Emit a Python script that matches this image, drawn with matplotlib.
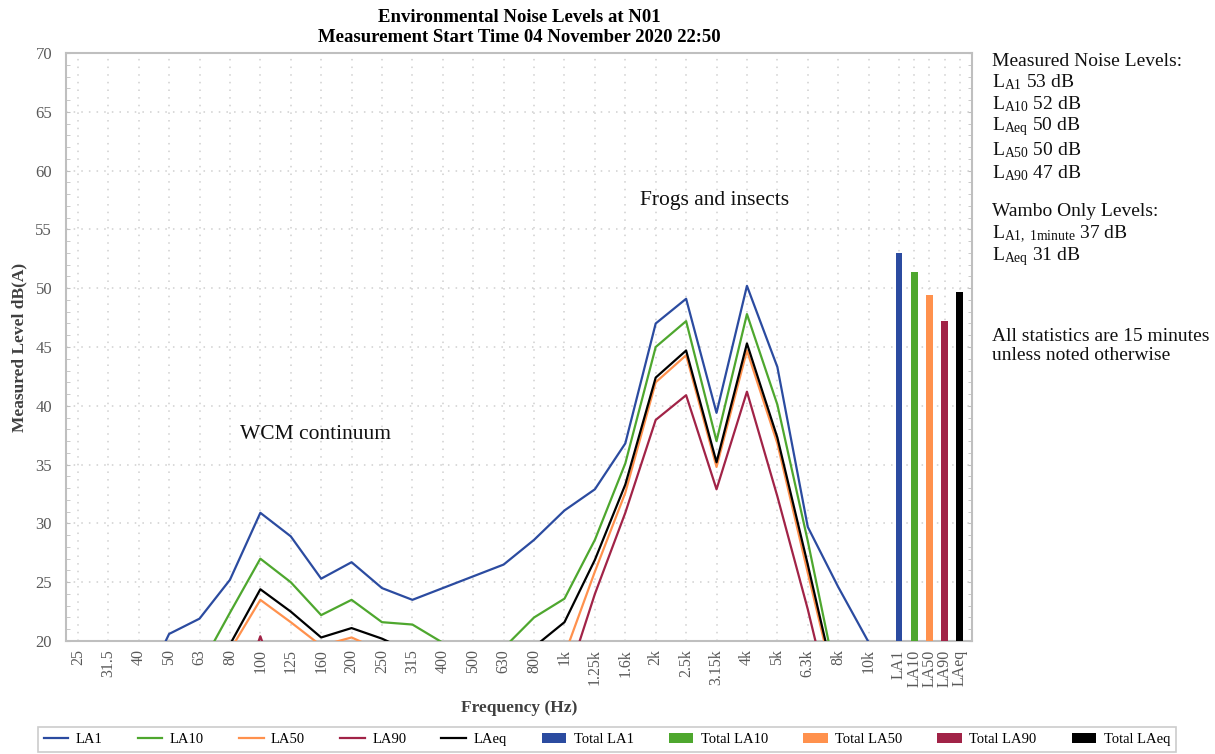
import numpy as np
import matplotlib
matplotlib.use('Agg')
import matplotlib.pyplot as plt
from matplotlib.ticker import MultipleLocator
from matplotlib.patches import Patch
from matplotlib.lines import Line2D

# ---------------- data ----------------
freq_labels = ['25', '31.5', '40', '50', '63', '80', '100', '125', '160', '200', '250',
               '315', '400', '500', '630', '800', '1k', '1.25k', '1.6k', '2k', '2.5k',
               '3.15k', '4k', '5k', '6.3k', '8k', '10k']
la1 = [13.0, 14.0, 15.2, 20.6, 21.9, 25.2, 30.9, 28.9, 25.3, 26.7, 24.5, 23.5, 24.5, 25.5,
       26.5, 28.6, 31.1, 32.9, 36.8, 47.0, 49.1, 39.4, 50.2, 43.3, 29.7, 24.6, 19.9]
la10 = [10.0, 11.0, 13.0, 15.0, 17.7, 22.4, 27.0, 25.0, 22.2, 23.5, 21.6, 21.4, 19.85, 18.0,
        19.4, 22.0, 23.6, 28.6, 35.1, 45.0, 47.2, 37.0, 47.8, 40.1, 28.5, 16.0, 12.0]
la50 = [9.0, 10.0, 12.0, 14.0, 16.0, 19.2, 23.5, 21.6, 19.6, 20.3, 19.15, 18.0, 17.0, 16.0,
        15.0, 15.5, 18.8, 25.9, 32.6, 42.0, 44.3, 34.8, 44.7, 36.8, 25.8, 15.0, 12.0]
la90 = [8.0, 9.0, 10.0, 11.0, 12.0, 13.0, 20.4, 13.0, 12.0, 12.0, 11.0, 11.0, 10.0, 10.0,
        10.0, 11.0, 16.0, 24.0, 30.9, 38.8, 40.9, 32.9, 41.2, 32.3, 22.7, 12.0, 10.0]
laeq = [10.0, 11.0, 13.0, 15.0, 17.0, 19.7, 24.4, 22.5, 20.3, 21.1, 20.2, 19.0, 18.0, 17.0,
        17.5, 19.5, 21.6, 26.9, 33.3, 42.4, 44.7, 35.2, 45.3, 37.3, 26.5, 15.3, 12.0]
total_labels = ['LA1', 'LA10', 'LA50', 'LA90', 'LAeq']
total_values = [53.0, 51.4, 49.4, 47.2, 49.7]

series_names = ['LA1', 'LA10', 'LA50', 'LA90', 'LAeq']
series_colors = ['#2B4BA0', '#4EA72E', '#FF914D', '#A12347', '#000000']

title_lines = ['Environmental Noise Levels at N01',
               'Measurement Start Time 04 November 2020 22:50']
side_texts = ['Measured Noise Levels:',
              r'L$_{\mathrm{A1}}$ 53 dB',
              r'L$_{\mathrm{A10}}$ 52 dB',
              r'L$_{\mathrm{Aeq}}$ 50 dB',
              r'L$_{\mathrm{A50}}$ 50 dB',
              r'L$_{\mathrm{A90}}$ 47 dB',
              'Wambo Only Levels:',
              r'L$_{\mathrm{A1,\ 1minute}}$ 37 dB',
              r'L$_{\mathrm{Aeq}}$ 31 dB',
              'All statistics are 15 minutes',
              'unless noted otherwise']
side_y_px = [61, 82, 104, 127, 150, 173, 212, 234, 257, 337, 356]

# ---------------- style ----------------
plt.rcParams['font.family'] = ['Liberation Serif', 'DejaVu Serif']
plt.rcParams['mathtext.fontset'] = 'custom'
plt.rcParams['mathtext.rm'] = 'Liberation Serif'
plt.rcParams['mathtext.it'] = 'Liberation Serif:italic'
plt.rcParams['mathtext.bf'] = 'Liberation Serif:bold'

W, H = 1215, 754
fig = plt.figure(figsize=(W / 100, H / 100), dpi=100)
ax = fig.add_axes([66 / W, 1 - 641 / H, (972 - 66) / W, (641 - 53) / H])

x = np.arange(len(freq_labels))
all_series = [la1, la10, la50, la90, laeq]
handles = []
for name, vals, col in zip(series_names, all_series, series_colors):
    ax.plot(x, vals, color=col, lw=1.6, zorder=3, label=name)
    handles.append(Line2D([0], [0], color=col, lw=1.6, label=name))

xb = len(freq_labels) + 0.5 * np.arange(len(total_labels))
ax.bar(xb, total_values, width=0.22, color=series_colors, edgecolor='none', zorder=3)
for name, col in zip(total_labels, series_colors):
    handles.append(Patch(facecolor=col, edgecolor='none', label='Total ' + name))

ax.set_ylim(20, 70)
ax.set_xlim(-0.39, 29.4)
ax.set_xticks(np.concatenate([x, xb]))
ax.set_xticklabels(freq_labels + total_labels, rotation=90, fontsize=11.5, color='#595959')
ax.yaxis.set_major_locator(MultipleLocator(5))
ax.yaxis.set_minor_locator(MultipleLocator(1))
ax.tick_params(axis='y', which='both', direction='in', left=True, right=True,
               color='#bfbfbf', labelsize=12, labelcolor='#595959', pad=10)
ax.tick_params(axis='y', which='major', length=3)
ax.tick_params(axis='y', which='minor', length=3)
ax.tick_params(axis='x', length=0, pad=6)

for sp in ax.spines.values():
    sp.set_color('#bfbfbf')
    sp.set_linewidth(1.5)

ax.grid(True, which='major', color='#cfcfcf', linestyle=(0, (1, 4)), linewidth=1.1, zorder=0)
ax.set_axisbelow(True)

ax.set_xlabel('Frequency (Hz)', fontsize=12.5, fontweight='bold', color='#404040', labelpad=10)
ax.set_ylabel('Measured Level dB(A)', fontsize=12.5, fontweight='bold', color='#404040', labelpad=6)

ax.text(20.95, 57.5, 'Frogs and insects', fontsize=15.5, ha='center', va='center', color='#111111')
ax.text(7.8, 37.6, 'WCM continuum', fontsize=15.5, ha='center', va='center', color='#111111')

cx = (66 + 972) / 2 / W
fig.text(cx, 1 - 17 / H, title_lines[0], ha='center', va='center', fontsize=13.5, fontweight='bold')
fig.text(cx, 1 - 38 / H, title_lines[1], ha='center', va='center', fontsize=13.5, fontweight='bold')

for txt, ypx in zip(side_texts, side_y_px):
    fig.text(992 / W, 1 - ypx / H, txt, ha='left', va='center', fontsize=14, color='#111111')

leg = fig.legend(handles=handles, loc='upper center', bbox_to_anchor=(0.4995, 1 - 727 / H),
                 ncol=10, frameon=True, fontsize=10.5, handlelength=1.7, columnspacing=2.4,
                 handletextpad=0.5, borderaxespad=0, fancybox=False, edgecolor='#bfbfbf')
leg.get_frame().set_linewidth(1.2)

fig.savefig('out.png', dpi=100)
